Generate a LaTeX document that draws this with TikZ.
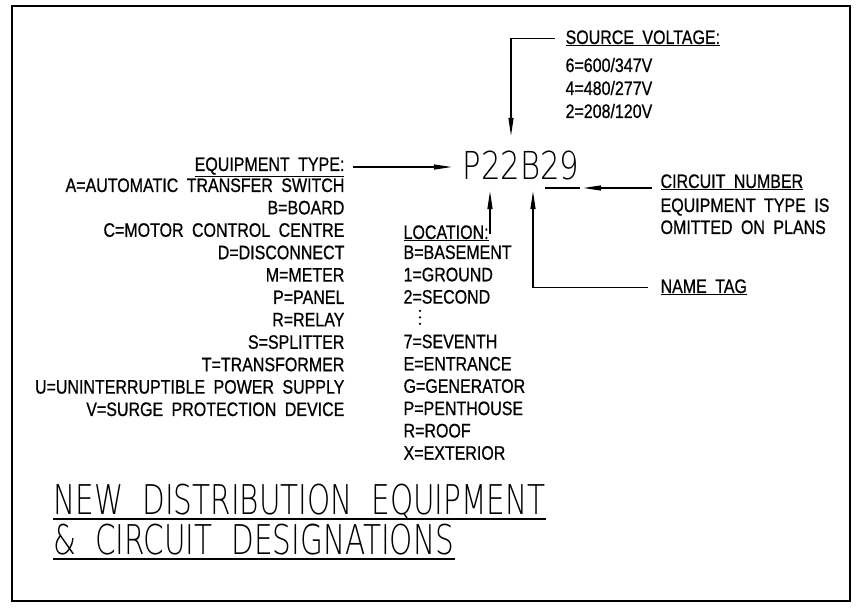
\documentclass[tikz,border=0pt]{standalone}
\usepackage{fontspec}
\setmainfont{Liberation Sans}[FakeStretch=0.82, WordSpace=1.9, FakeBold=0.7]
\newfontfamily\codefont{DejaVuSans-ExtraLight.ttf}[FakeStretch=0.8]
\newfontfamily\titlefont{DejaVuSans-ExtraLight.ttf}[FakeStretch=0.72, WordSpace=2]
\usetikzlibrary{arrows.meta, positioning}

\tikzset{
  txt/.style={inner sep=0pt, font=\fontsize{19.5}{22}\selectfont},
  ttl/.style={inner sep=0pt, anchor=base west, font=\titlefont\fontsize{41}{44}\selectfont},
  arr/.style={-{Triangle[length=18pt,width=5pt]}},
}

\begin{document}
\begin{tikzpicture}[x=1pt, y=1pt, line width=1.2pt]
	\useasboundingbox (0,0) rectangle (860,609);
	\draw[line width=2.5pt] (12,603) rectangle (850,8);

	% the designation itself
	\node[inner sep=0pt, anchor=base, font=\codefont\fontsize{38.5}{40}\selectfont] (code) at (521,429) {P22B29};
	\coordinate (volttip) at ([xshift=-10pt,yshift=15pt]code.north);
	\coordinate (loctip) at ([xshift=-31pt,yshift=-10pt]code.south);
	\coordinate (tagtip) at ([xshift=12pt,yshift=-10pt]code.south);
	\coordinate (dashR) at ([yshift=-8pt]code.base east);
	\coordinate (dashL) at ([xshift=-35pt]dashR);
	\draw (dashL) -- (dashR);

	% equipment type
	\node[txt, anchor=base east] (eqhead) at (345,438) {\underline{EQUIPMENT TYPE:}};
	\foreach \t [count=\i] in {A=AUTOMATIC TRANSFER SWITCH, B=BOARD, C=MOTOR CONTROL CENTRE,
		D=DISCONNECT, M=METER, P=PANEL, R=RELAY, S=SPLITTER, T=TRANSFORMER,
		U=UNINTERRUPTIBLE POWER SUPPLY, V=SURGE PROTECTION DEVICE}
		\node[txt, anchor=base east] (eq\i) at (345,{417-22.4*(\i-1)}) {\t};

	% location (fourth row is the vertical ellipsis)
	\node[txt, anchor=base west] (lochead) at (403,370) {\underline{LOCATION:}};
	\foreach \t [count=\i] in {B=BASEMENT, 1=GROUND, 2=SECOND, {}, 7=SEVENTH,
		E=ENTRANCE, G=GENERATOR, P=PENTHOUSE, R=ROOF, X=EXTERIOR}
		\node[txt, anchor=base west] (loc\i) at (403,{350-22.3*(\i-1)}) {\t};
	\foreach \d in {2,8.5,15}
		\fill ([xshift=17pt,yshift=\d pt]loc4.base west) circle (1.3pt);

	% source voltage
	\node[txt, anchor=base west] (volthead) at (565,565) {\underline{SOURCE VOLTAGE:}};
	\foreach \t [count=\i] in {6=600/347V, 4=480/277V, 2=208/120V}
		\node[txt, anchor=base west] (volt\i) at (565,{560-23*\i}) {\t};

	% circuit number and name tag
	\node[txt, anchor=base west] (circhead) at (660,421) {\underline{CIRCUIT NUMBER}};
	\node[txt, anchor=base west] (circ1) at (660,397) {EQUIPMENT TYPE IS};
	\node[txt, anchor=base west] (circ2) at (660,375) {OMITTED ON PLANS};
	\node[txt, anchor=base west] (taghead) at (660,316) {\underline{NAME TAG}};

	% connectors
	\draw[arr, shorten <=8pt, shorten >=10pt] (eqhead.east) -- (eqhead.east -| code.west);
	\draw[arr, shorten <=10pt] (volthead.west) -| (volttip);
	\draw[arr] (lochead.east) -| (loctip);
	\draw[arr, shorten <=12pt] (taghead.west) -| (tagtip);
	\draw[arr, shorten <=8pt, shorten >=3pt] (circhead.base west) -- (dashR);

	% title
	\node[ttl] (ttl1) at (53,94) {NEW DISTRIBUTION EQUIPMENT};
	\node[ttl] (ttl2) at (53,54) {\& CIRCUIT DESIGNATIONS};
	\draw ([yshift=-4pt]ttl1.base west) -- ([yshift=-4pt]ttl1.base east);
	\draw ([yshift=-4pt]ttl2.base west) -- ([yshift=-4pt]ttl2.base east);
\end{tikzpicture}
\end{document}
